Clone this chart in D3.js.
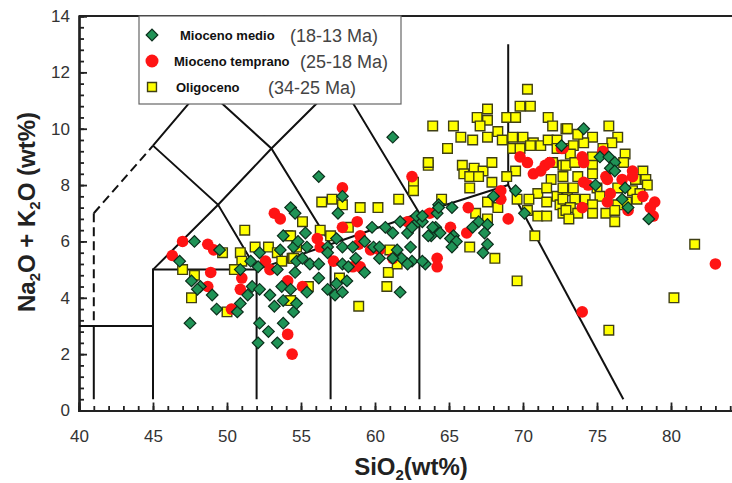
<!DOCTYPE html>
<html>
<head>
<meta charset="utf-8">
<script src="https://cdn.jsdelivr.net/npm/d3@7"></script>
<style>
  body { margin: 0; background: #fff; }
  svg { display: block; font-family: "Liberation Sans", Arial, sans-serif; }
</style>
</head>
<body>
<svg id="chart" width="732" height="483"></svg>
<script>
// [SiO2, Na2O+K2O]
const oligoceno = [
  [51.2,6.4],[49.7,5.6],[47.0,5.0],[47.8,4.8],[47.6,4.0],[50.0,3.5],[50.9,5.6],[51.9,5.8],[52.8,5.8],[51.0,5.3],
  [50.5,5.0],[53.4,5.6],[54.1,6.2],[54.4,5.4],[54.7,5.8],[53.7,5.3],[54.3,3.9],
  [63.6,8.7],[62.6,8.1],[62.6,7.8],[56.4,7.4],[57.1,7.5],[57.8,7.3],[59.0,7.2],[60.2,7.2],[61.6,7.5],[55.1,6.7],
  [58.2,6.5],[57.0,6.2],[56.3,6.4],[54.3,6.2],[61.0,5.7],[60.9,4.9],[60.8,4.4],[58.9,3.7],[61.5,5.2],[54.5,5.4],
  [55.5,4.4],[57.6,4.7],
  [70.3,11.4],[67.6,10.7],[69.8,10.8],[70.5,10.8],[66.9,10.4],[67.6,10.3],[68.9,10.4],[69.5,10.4],[71.7,10.4],
  [72.0,10.1],[63.9,10.1],[65.3,10.1],[67.1,10.1],[68.3,9.9],[65.8,9.7],[66.6,9.6],[67.6,9.7],[68.6,9.6],[69.3,9.7],
  [70.0,9.7],[70.7,9.5],[71.2,9.4],[71.7,9.6],[72.3,9.6],[72.9,10.0],[64.9,9.3],[69.3,9.3],[69.8,9.3],[70.5,9.4],
  [72.3,9.3],[72.9,9.3],[63.6,8.8],[65.9,8.7],[66.7,8.6],[67.3,8.5],[67.9,8.8],[66.0,8.4],[66.4,8.3],[67.0,8.3],
  [69.5,8.5],[72.0,8.8],[72.7,8.7],[72.7,8.3],[71.9,8.2],[67.9,8.1],[68.9,8.3],[66.4,7.9],[71.0,7.7],[71.6,7.9],
  [72.3,7.6],[73.0,7.8],[69.6,7.5],[70.4,7.5],[71.6,7.4],[72.5,7.3],[67.6,7.4],[68.3,7.2],[64.5,7.5],[66.8,7.0],
  [67.6,6.8],[70.3,7.1],[71.0,6.9],[71.6,6.9],[72.7,7.0],[70.8,6.2],
  [75.8,10.1],[73.0,10.0],[74.7,9.7],[76.4,9.7],[76.0,9.5],[73.4,9.4],[74.1,9.5],[75.4,9.3],[76.9,9.1],[73.2,9.1],
  [74.7,9.0],[72.9,8.7],[73.5,8.8],[74.7,8.7],[76.8,8.8],[78.1,8.5],[73.7,8.3],[74.7,8.4],[78.3,8.2],[77.6,8.2],
  [78.4,8.0],[72.7,7.9],[73.4,7.9],[75.0,7.9],[76.4,7.9],[77.4,7.8],[77.9,7.7],[72.7,7.5],[73.5,7.5],[74.2,7.5],
  [75.2,7.6],[77.0,7.4],[77.7,7.5],[73.2,7.2],[74.7,7.3],[76.4,7.3],[72.9,7.1],[73.7,7.0],[74.7,7.0],[75.6,7.0],
  [76.2,7.1],[73.1,6.8],[76.2,6.7],[73.7,9.8],
  [66.4,5.8],[68.1,5.4],[69.6,4.6],[81.6,5.9],[80.2,4.0],[75.8,2.85]
];

const miocenoTemprano = [
  [53.2,7.0],[53.6,6.8],[47.0,6.0],[46.3,5.5],[48.7,5.9],[49.1,5.7],[48.9,4.9],[48.7,4.4],[51.0,4.7],[50.9,4.3],
  [50.3,3.6],[52.6,5.3],[52.9,5.0],[54.1,2.7],[54.4,2.0],[54.1,4.6],
  [57.8,7.9],[57.8,6.5],[58.8,6.7],[56.1,6.1],[56.3,5.8],[59.0,6.2],[58.9,5.9],[59.7,5.7],[60.3,5.7],[57.2,5.3],
  [58.5,5.1],[59.0,5.1],[55.1,4.4],[62.5,8.3],[62.2,6.7],[63.7,7.0],[64.2,5.4],[64.2,5.1],[61.2,5.4],
  [69.8,9.0],[70.3,8.8],[70.7,8.4],[71.2,8.5],[71.5,8.7],[71.8,8.8],[72.6,9.3],[68.5,7.8],[68.5,7.5],[66.3,7.2],
  [65.1,6.5],[66.2,6.3],[69.0,6.8],
  [74.0,9.0],[74.1,8.8],[75.4,9.2],[75.6,8.3],[75.7,8.2],[74.1,8.1],[74.4,8.0],[77.4,8.5],[77.4,8.3],[76.7,8.2],
  [75.9,7.7],[75.7,7.4],[78.1,7.6],[78.9,7.4],[78.6,7.2],[78.8,6.9],[77.1,7.1],[74.0,7.2],[72.7,9.3],
  [74.0,3.5],[83.0,5.2]
];

const miocenoMedio = [
  [47.8,6.0],[49.5,5.7],[46.8,5.3],[47.6,4.6],[48.2,4.4],[49.0,4.1],[48.0,4.3],[49.3,3.6],[50.7,3.5],[50.9,3.8],
  [51.4,4.1],[51.7,4.4],[52.2,4.3],[50.9,5.0],[52.2,5.6],[51.6,5.3],[52.1,5.1],[47.5,3.1],[52.2,3.1],[52.9,4.1],
  [52.8,2.8],[53.4,2.4],[52.1,2.4],[53.8,3.1],[54.3,7.2],[54.6,7.0],[53.8,6.2],[53.6,5.7],[54.5,5.8],[54.7,5.3],
  [53.4,5.0],[53.7,4.4],[54.3,4.3],[53.2,3.7],[53.8,3.9],[54.5,3.5],[54.7,3.8],[54.6,4.9],
  [56.2,8.3],[57.8,7.6],[57.5,7.0],[55.3,6.3],[54.8,6.0],[55.4,5.8],[55.1,5.4],[55.6,5.2],[56.2,5.2],[56.8,5.8],
  [57.4,6.1],[57.8,5.8],[58.5,5.8],[58.7,5.4],[57.8,5.2],[58.2,5.1],[56.8,5.6],[59.3,4.9],[57.4,4.5],[58.1,4.6],
  [56.8,4.3],[57.3,4.1],[57.8,4.2],[55.4,4.2],[56.2,4.7],[59.8,6.5],[59.3,6.0],[59.9,5.8],[60.3,5.4],[60.7,6.5],
  [61.2,6.3],[61.7,6.7],[62.2,6.3],[62.5,6.5],[62.9,6.7],[62.8,6.9],[63.2,6.7],[64.1,6.5],[63.8,6.2],[64.3,7.3],
  [64.2,7.0],[61.5,5.7],[61.8,5.4],[61.2,5.4],[62.4,5.8],[62.5,5.3],[62.2,5.2],[63.4,5.2],[63.2,5.3],[61.7,4.2],
  [60.3,5.8],
  [72.6,9.4],[69.5,7.8],[68.0,7.6],[70.1,7.0],[64.3,7.2],[65.2,7.2],[63.9,6.5],[63.2,6.9],[67.0,6.7],[67.6,6.6],
  [66.6,6.5],[67.4,6.3],[65.3,6.2],[64.4,6.3],[63.6,6.2],
  [74.1,10.0],[75.2,9.0],[75.8,9.0],[76.2,8.8],[75.9,8.6],[76.2,8.5],[74.9,8.0],[76.9,7.9],[76.7,7.5],[77.1,7.2],
  [78.5,6.8],
  [67.3,5.6],[67.6,5.9],[65.1,6.1],[65.5,6.0],[65.2,5.8],[61.2,9.7]
];

// TAS field boundaries (data units)
const tasSolid = [
  [[45,9.4],[48.4,11.5],[52.5,14]],
  [[41,3],[41,0.4]],
  [[40,3],[45,3]],
  [[45,0.4],[45,5],[52,5]],
  [[52,0.4],[52,5],[57,5.9],[63,7],[69,8]],
  [[57,0.4],[57,5.9]],
  [[63,0.4],[63,7]],
  [[45,5],[49.4,7.3],[53,9.3],[57.6,11.7],[61,13.5]],
  [[45,9.4],[49.4,7.3],[52,5]],
  [[48.4,11.5],[53,9.3],[57,5.9]],
  [[52.5,14],[57.6,11.7],[63,7]],
  [[69,8],[69,13]],
  [[69,8],[76.78,0.4]]
];
const tasDashed = [
  [[41,7],[45,9.4]],
  [[41,7],[41,3]]
];

const xTicks = [40, 45, 50, 55, 60, 65, 70, 75, 80];
const yTicks = [0, 2, 4, 6, 8, 10, 12, 14];

const legendItems = [
  { name: "Mioceno medio", age: "(18-13 Ma)" },
  { name: "Mioceno temprano", age: "(25-18 Ma)" },
  { name: "Oligoceno", age: "(34-25 Ma)" }
];

const svg = d3.select("#chart");
const plotLeft = 79, plotBottom = 410.5, plotTop = 16, plotRight = 732;

const x = d3.scaleLinear().domain([40, 85]).range([plotLeft, plotLeft + 45 * 14.8]);
const y = d3.scaleLinear().domain([0, 14]).range([plotBottom, plotTop]);

const green = "#1f9356", red = "#ff1414", yellow = "#ffff00";

svg.append("defs").append("clipPath").attr("id", "plot")
  .append("rect").attr("x", plotLeft).attr("y", plotTop - 8)
  .attr("width", plotRight - plotLeft).attr("height", plotBottom - plotTop + 8);

// Axes with inward ticks
const xMinor = svg.append("g").attr("transform", "translate(0," + plotBottom + ")")
  .call(d3.axisBottom(x).tickValues(d3.range(40, 85, 1)).tickSize(-4.5).tickFormat(""));
const xMajor = svg.append("g").attr("transform", "translate(0," + plotBottom + ")")
  .call(d3.axisBottom(x).tickValues(xTicks).tickSize(-8).tickPadding(19));
const yMinor = svg.append("g").attr("transform", "translate(" + plotLeft + ",0)")
  .call(d3.axisLeft(y).tickValues(d3.range(0, 14.01, 0.4)).tickSize(-5).tickFormat(""));
const yMajor = svg.append("g").attr("transform", "translate(" + plotLeft + ",0)")
  .call(d3.axisLeft(y).tickValues(yTicks).tickSize(-8).tickPadding(9));

[xMinor, xMajor, yMinor, yMajor].forEach((g) => {
  g.select(".domain").attr("stroke", "#222").attr("stroke-width", 2.2);
  g.selectAll(".tick line").attr("stroke", "#222").attr("stroke-width", 1.8);
  g.selectAll(".tick text").attr("font-size", 17).attr("fill", "#333")
    .attr("font-family", "'Liberation Sans', Arial, sans-serif");
});

// top frame line
svg.append("line")
  .attr("x1", plotLeft).attr("x2", plotRight).attr("y1", y(14)).attr("y2", y(14))
  .attr("stroke", "#222").attr("stroke-width", 2);

// TAS grid
const line = d3.line().x((d) => x(d[0])).y((d) => y(d[1]));
const grid = svg.append("g").attr("clip-path", "url(#plot)");
grid.selectAll(".solid").data(tasSolid).enter().append("path")
  .attr("d", line).attr("fill", "none").attr("stroke", "#111").attr("stroke-width", 2);
grid.selectAll(".dash").data(tasDashed).enter().append("path")
  .attr("d", line).attr("fill", "none").attr("stroke", "#111").attr("stroke-width", 2)
  .attr("stroke-dasharray", "9,5");

// points
const pts = svg.append("g").attr("clip-path", "url(#plot)");
const squareSym = d3.symbol().type(d3.symbolSquare).size(92);
const diamondSym = d3.symbol().type(d3.symbolSquare).size(68);

pts.selectAll(".olig").data(oligoceno).enter().append("path")
  .attr("d", squareSym)
  .attr("transform", (d) => "translate(" + x(d[0]) + "," + y(d[1]) + ")")
  .attr("fill", yellow).attr("stroke", "#3f3f14").attr("stroke-width", 1.4);

pts.selectAll(".temp").data(miocenoTemprano).enter().append("circle")
  .attr("cx", (d) => x(d[0])).attr("cy", (d) => y(d[1])).attr("r", 5.8)
  .attr("fill", red);

pts.selectAll(".medio").data(miocenoMedio).enter().append("path")
  .attr("d", diamondSym)
  .attr("transform", (d) => "translate(" + x(d[0]) + "," + y(d[1]) + ") rotate(45)")
  .attr("fill", green).attr("stroke", "#0c2f1c").attr("stroke-width", 1.2);

// legend
const lg = svg.append("g");
lg.append("rect").attr("x", 139).attr("y", 16).attr("width", 262).attr("height", 88)
  .attr("fill", "#fff").attr("stroke", "#666").attr("stroke-width", 1.2);

const rowY = [35, 61, 87];
const nameX = [180, 174, 176];
const ageX = [290, 300, 268];

lg.append("path").attr("d", diamondSym)
  .attr("transform", "translate(152," + rowY[0] + ") rotate(45)")
  .attr("fill", green).attr("stroke", "#0c2f1c").attr("stroke-width", 1.2);
lg.append("circle").attr("cx", 152).attr("cy", rowY[1]).attr("r", 6.5).attr("fill", red);
lg.append("path").attr("d", d3.symbol().type(d3.symbolSquare).size(80))
  .attr("transform", "translate(152," + rowY[2] + ")")
  .attr("fill", yellow).attr("stroke", "#3f3f14").attr("stroke-width", 1.4);

legendItems.forEach((d, i) => {
  lg.append("text").attr("x", nameX[i]).attr("y", rowY[i] + 5)
    .attr("font-size", 13).attr("font-weight", "bold").attr("fill", "#111").text(d.name);
  lg.append("text").attr("x", ageX[i]).attr("y", rowY[i] + 6.5)
    .attr("font-size", 18).attr("fill", "#444").text(d.age);
});

// axis titles
const xt = svg.append("text").attr("x", 411).attr("y", 475).attr("text-anchor", "middle")
  .attr("font-size", 24).attr("font-weight", "bold").attr("fill", "#222");
xt.append("tspan").text("SiO");
xt.append("tspan").attr("font-size", 15).attr("dy", 5).text("2");
xt.append("tspan").attr("dy", -5).text("(wt%)");

const yt = svg.append("text").attr("transform", "translate(35,212) rotate(-90)")
  .attr("text-anchor", "middle").attr("font-size", 24).attr("font-weight", "bold").attr("fill", "#222");
yt.append("tspan").text("Na");
yt.append("tspan").attr("font-size", 15).attr("dy", 5).text("2");
yt.append("tspan").attr("dy", -5).text("O + K");
yt.append("tspan").attr("font-size", 15).attr("dy", 5).text("2");
yt.append("tspan").attr("dy", -5).text("O (wt%)");
</script>
</body>
</html>
